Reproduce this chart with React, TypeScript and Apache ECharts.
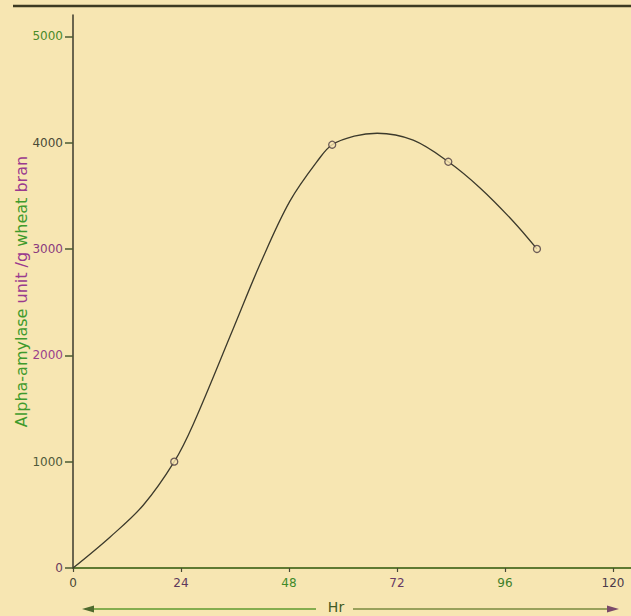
import React, { useEffect, useRef } from "react";
import * as echarts from "echarts";

// Smooth fitted curve
const curveHours = [0, 8.2, 15.6, 22.5, 26.7, 35.6, 41.6, 48.2, 54.9, 57.6, 62.5, 67.6, 75.6, 83.4, 90.4, 97.8, 103.1];
const curveUnits = [0, 290, 590, 1000, 1350, 2250, 2860, 3450, 3860, 3980, 4060, 4088, 4023, 3820, 3576, 3261, 3000];
// Measured points (open circles)
const pointHours = [22.5, 57.6, 83.4, 103.1];
const pointUnits = [1000, 3980, 3820, 3000];
// Tick labels
const xTicks = [0, 24, 48, 72, 96, 120];
const yTicks = [0, 1000, 2000, 3000, 4000, 5000];
const xTickColors = ["#4a4636", "#5e3a5c", "#3f8a2a", "#663a66", "#3f7f2a", "#4a3a4a"];
const yTickColors = ["#6a3a5e", "#4f5a3a", "#9a3f8c", "#8a3a7e", "#4a4a38", "#4a8a2a"];

const BG = "#f7e6b2";
const INK = "#3c3a2c";

export default function App() {
  const ref = useRef<HTMLDivElement>(null);
  useEffect(() => {
    if (!ref.current) return;
    const chart = echarts.init(ref.current, undefined, { renderer: "svg" });
    chart.setOption({
      animation: false,
      backgroundColor: BG,
      grid: { left: 73, right: 0, top: 15, bottom: 48, containLabel: false, outerBoundsMode: "none" },
      xAxis: {
        type: "value",
        min: 0,
        max: 124,
        interval: 24,
        splitLine: { show: false },
        axisLine: { lineStyle: { color: "#5f7a32", width: 2 } },
        axisTick: { customValues: xTicks, length: 4, lineStyle: { color: "#4a4a36", width: 1.2 } },
        axisLabel: {
          customValues: xTicks,
          margin: 9,
          fontFamily: "DejaVu Sans",
          fontSize: 12,
          formatter: (v: number) => String(v),
          color: (v: any) => xTickColors[xTicks.indexOf(Number(v))] || INK,
        },
      },
      yAxis: {
        type: "value",
        min: 0,
        max: 5200,
        interval: 1000,
        splitLine: { show: false },
        axisLine: { lineStyle: { color: INK, width: 1.5 } },
        axisTick: { customValues: yTicks, length: 8, lineStyle: { color: "#4a5a30", width: 1.5 } },
        axisLabel: {
          customValues: yTicks,
          margin: 10,
          fontFamily: "DejaVu Sans",
          fontSize: 12,
          formatter: (v: number) => String(v),
          color: (v: any) => yTickColors[yTicks.indexOf(Number(v))] || INK,
        },
        name: "{g|Alpha-amylase} {m|unit /g} {g|wheat} {m|bran}",
        nameLocation: "middle",
        nameGap: 44,
        nameMoveOverlap: false,
        nameTextStyle: {
          fontFamily: "DejaVu Sans",
          fontSize: 16,
          rich: {
            g: { color: "#3f9a2c", fontFamily: "DejaVu Sans", fontSize: 16 },
            m: { color: "#9a3a8e", fontFamily: "DejaVu Sans", fontSize: 16 },
          },
        },
      },
      series: [
        {
          type: "line",
          data: curveHours.map((h, i) => [h, curveUnits[i]]),
          smooth: 0.35,
          showSymbol: false,
          lineStyle: { color: INK, width: 1.3 },
          z: 2,
        },
        {
          type: "scatter",
          data: pointHours.map((h, i) => [h, pointUnits[i]]),
          symbol: "circle",
          symbolSize: 7,
          itemStyle: { color: BG, borderColor: "#4a3a40", borderWidth: 1.3 },
          z: 3,
        },
      ],
      graphic: [
        { type: "line", shape: { x1: 13, y1: 6, x2: 631, y2: 6 }, style: { stroke: "#3d3a22", lineWidth: 2.5 } },
        { type: "line", shape: { x1: 85, y1: 609, x2: 316, y2: 609 }, style: { stroke: "#5f9a2e", lineWidth: 1.6 } },
        { type: "polygon", shape: { points: [[82, 609], [94, 605.5], [94, 612.5]] }, style: { fill: "#4f6a2e" } },
        { type: "line", shape: { x1: 353, y1: 609, x2: 608, y2: 609 }, style: { stroke: "#7a8a3e", lineWidth: 1.6 } },
        { type: "polygon", shape: { points: [[619, 609], [607, 605.5], [607, 612.5]] }, style: { fill: "#7a4a6a" } },
        {
          type: "text",
          x: 336,
          y: 607,
          style: { text: "Hr", fill: "#3f5a25", font: "14px DejaVu Sans", textAlign: "center", textVerticalAlign: "middle" },
        },
      ],
    });
    return () => chart.dispose();
  }, []);
  return (
    <div
      ref={ref}
      style={{ position: "absolute", left: 0, top: 0, width: 631, height: 616, background: BG }}
    />
  );
}
